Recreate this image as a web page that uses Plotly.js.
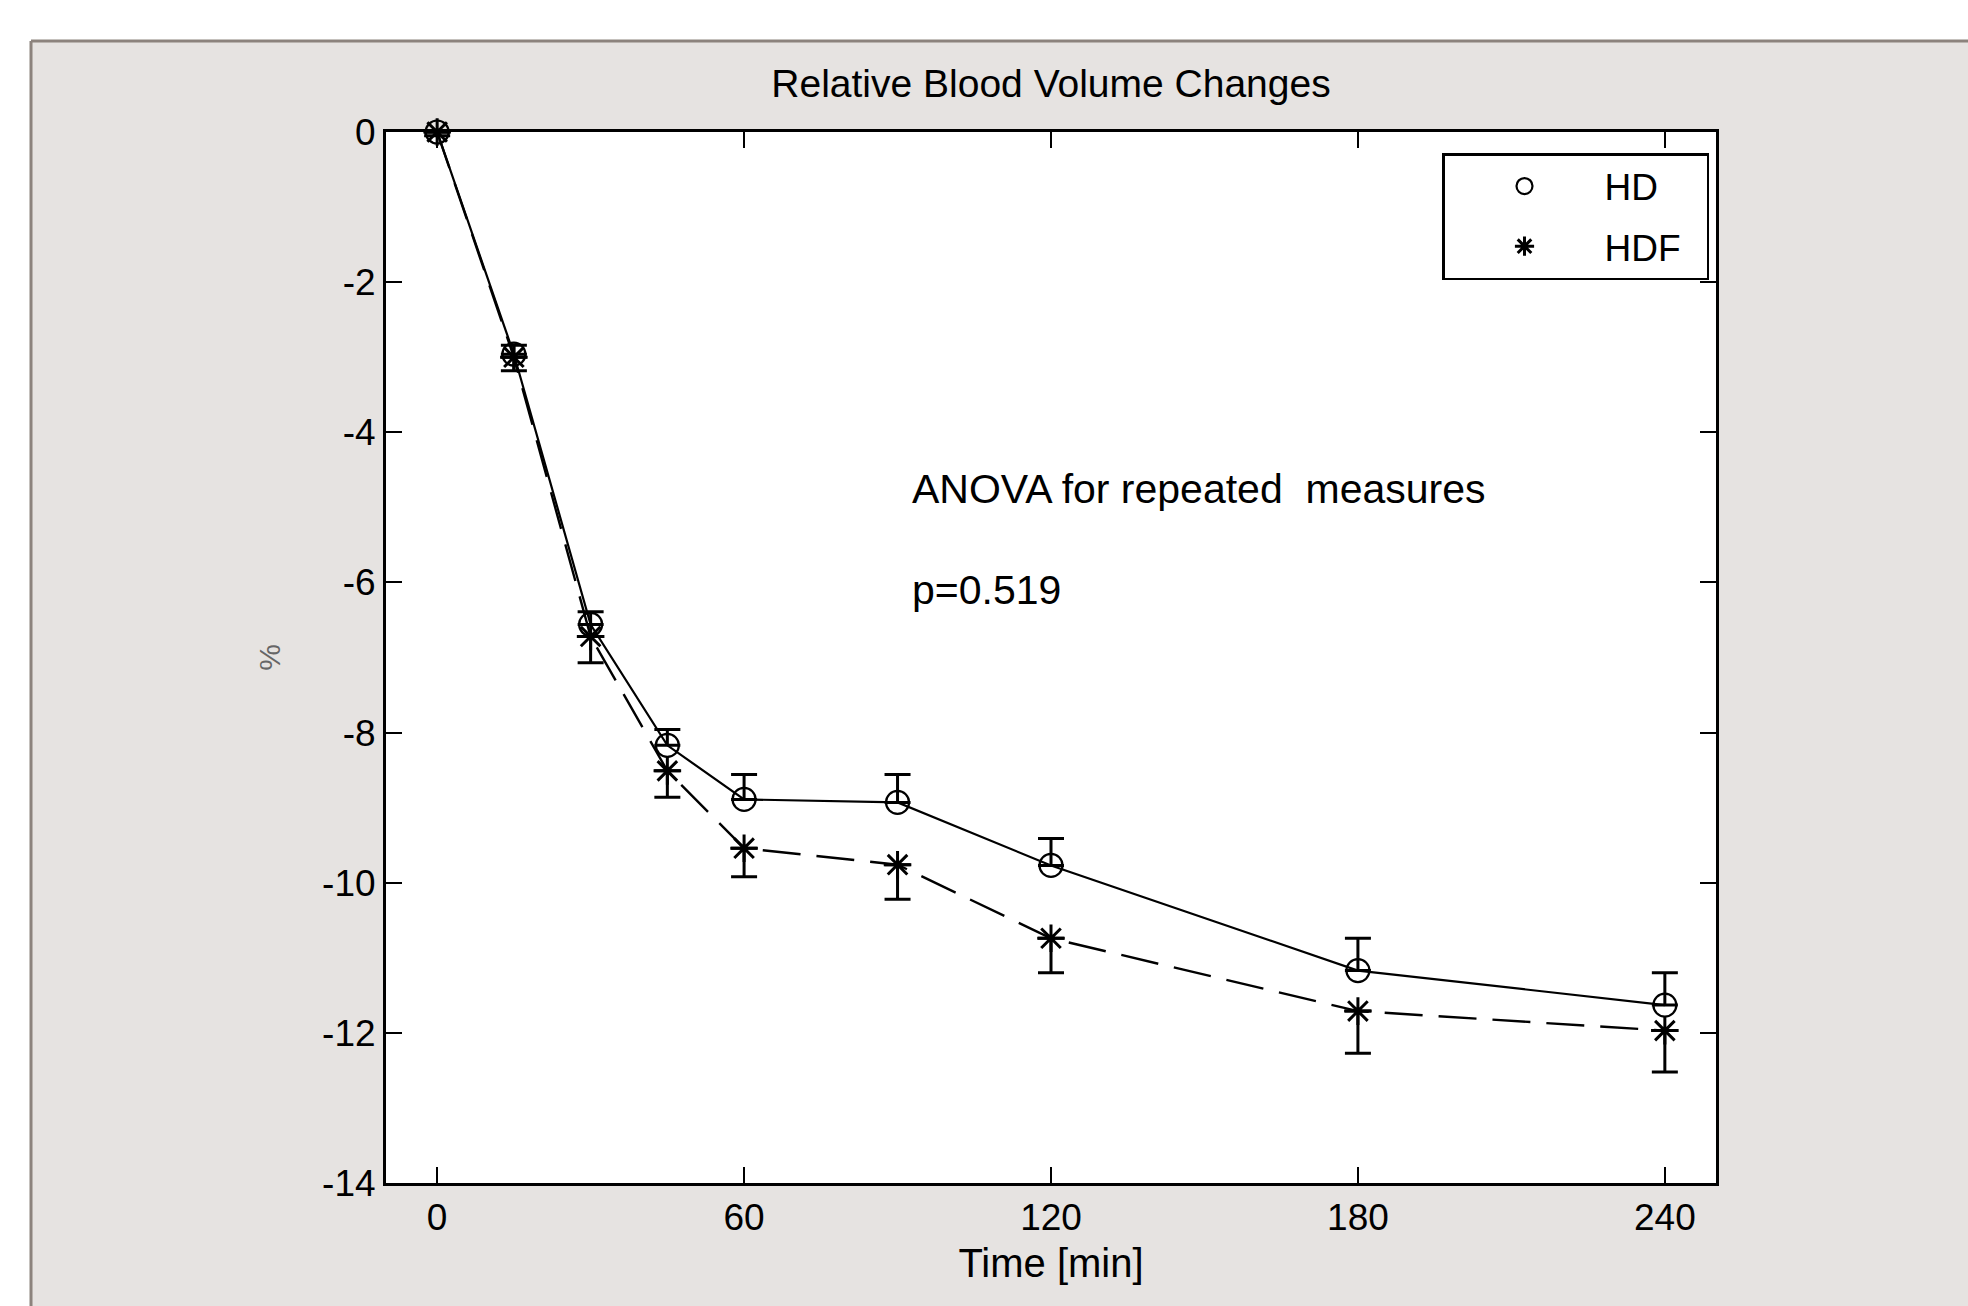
<!DOCTYPE html>
<html>
<head>
<meta charset="utf-8">
<script src="https://cdn.plot.ly/plotly-3.0.1.min.js"></script>
<style>
  html, body { margin: 0; padding: 0; background: #ffffff; }
  #chart { width: 1968px; height: 1306px; }
</style>
</head>
<body>
<div id="chart"></div>
<script>
// ---- data ----
const timeMin = [0, 15, 30, 45, 60, 90, 120, 180, 240];
const hdValues = [0, -2.96, -6.56, -8.17, -8.89, -8.93, -9.77, -11.17, -11.63];
const hdErrorUp = [0.05, 0.12, 0.17, 0.21, 0.33, 0.37, 0.36, 0.43, 0.43];
const hdfValues = [0, -3.0, -6.72, -8.51, -9.54, -9.76, -10.74, -11.71, -11.97];
const hdfErrorDown = [0.05, 0.18, 0.35, 0.35, 0.38, 0.46, 0.46, 0.56, 0.55];
const seriesNames = ["HD", "HDF"];
const xTickVals = [0, 60, 120, 180, 240];
const xTickText = ["0", "60", "120", "180", "240"];
const yTickVals = [0, -2, -4, -6, -8, -10, -12, -14];
const yTickText = ["0", "-2", "-4", "-6", "-8", "-10", "-12", "-14"];

const FONT = "Liberation Sans, Arial, Helvetica, sans-serif";
const NBSP = "\u00a0";

const traces = [
  {
    x: timeMin, y: hdValues, mode: "lines", showlegend: false, hoverinfo: "skip",
    line: { color: "#000000", width: 2.2 }
  },
  {
    x: timeMin, y: hdfValues, mode: "lines", showlegend: false, hoverinfo: "skip",
    line: { color: "#000000", width: 2.4, dash: "38px,16px" }
  },
  {
    x: timeMin, y: hdValues, mode: "markers", name: seriesNames[0] + NBSP + NBSP, legendgroup: "g1", cliponaxis: false,
    marker: { symbol: "circle-open", size: 23, color: "#000000", line: { width: 2.2, color: "#000000" } },
    error_y: { type: "data", symmetric: false, array: hdErrorUp, arrayminus: timeMin.map(() => 0),
               color: "#000000", thickness: 3, width: 13 }
  },
  {
    x: timeMin, y: hdfValues, mode: "markers", name: seriesNames[1] + NBSP + NBSP, legendgroup: "g2", cliponaxis: false,
    marker: { symbol: "asterisk-open", size: 23, color: "#000000", line: { width: 3, color: "#000000" } },
    error_y: { type: "data", symmetric: false, array: timeMin.map(() => 0), arrayminus: hdfErrorDown,
               color: "#000000", thickness: 3, width: 13 }
  }
];

// panel frame geometry (paper coordinates, plot area spans 386..1716 x 132..1183 px)
const pxX = px => (px - 386) / 1330;
const pxY = py => (1183 - py) / 1051;
const frameLeft = pxX(31);
const frameTop = pxY(41);

const layout = {
  width: 1968, height: 1306,
  margin: { l: 386, r: 252, t: 132, b: 123, pad: 0 },
  paper_bgcolor: "#e6e3e1",
  plot_bgcolor: "#ffffff",
  font: { family: FONT, color: "#000000", size: 38 },
  title: {
    text: "Relative Blood Volume Changes",
    font: { family: FONT, size: 39, color: "#000000" },
    x: 0.5, xref: "paper", xanchor: "center",
    y: 1 - 83 / 1306, yref: "container", yanchor: "middle"
  },
  xaxis: {
    range: [-10, 250], tickmode: "array", tickvals: xTickVals, ticktext: xTickText,
    ticks: "inside", ticklen: 16, tickwidth: 2, tickcolor: "#000000",
    showline: true, linewidth: 3, linecolor: "#000000", mirror: "ticks",
    showgrid: false, zeroline: false,
    tickfont: { family: FONT, size: 37, color: "#000000" },
    title: { text: "Time [min]", font: { family: FONT, size: 40, color: "#000000" }, standoff: 12 }
  },
  yaxis: {
    range: [-14, 0], tickmode: "array", tickvals: yTickVals, ticktext: yTickText,
    ticks: "inside", ticklen: 16, tickwidth: 2, tickcolor: "#000000",
    showline: true, linewidth: 3, linecolor: "#000000", mirror: "ticks",
    showgrid: false, zeroline: false,
    tickfont: { family: FONT, size: 37, color: "#000000" },
    title: { text: "%", font: { family: FONT, size: 30, color: "#666666" }, standoff: 33 }
  },
  legend: {
    x: pxX(1442), y: pxY(153), xanchor: "left", yanchor: "top",
    bgcolor: "#ffffff", bordercolor: "#000000", borderwidth: 2.5,
    font: { family: FONT, size: 37, color: "#000000" },
    itemwidth: 150, traceorder: "grouped", tracegroupgap: 9
  },
  annotations: [
    { text: "ANOVA for repeated  measures", x: 92.4, y: -4.76, xref: "x", yref: "y",
      xanchor: "left", yanchor: "middle", showarrow: false,
      font: { family: FONT, size: 41, color: "#000000" } },
    { text: "p=0.519", x: 92.4, y: -6.1, xref: "x", yref: "y",
      xanchor: "left", yanchor: "middle", showarrow: false,
      font: { family: FONT, size: 41, color: "#000000" } }
  ],
  shapes: [
    { type: "rect", xref: "paper", yref: "paper", x0: -1, x1: 2, y0: frameTop, y1: 2,
      fillcolor: "#ffffff", line: { width: 0 }, layer: "above" },
    { type: "rect", xref: "paper", yref: "paper", x0: -1, x1: frameLeft, y0: -1, y1: 2,
      fillcolor: "#ffffff", line: { width: 0 }, layer: "above" },
    { type: "line", xref: "paper", yref: "paper", x0: frameLeft, x1: 2, y0: frameTop, y1: frameTop,
      line: { color: "#8c837d", width: 3 }, layer: "above" },
    { type: "line", xref: "paper", yref: "paper", x0: frameLeft, x1: frameLeft, y0: frameTop, y1: -1,
      line: { color: "#8c837d", width: 3 }, layer: "above" }
  ]
};

Plotly.newPlot("chart", traces, layout, { displayModeBar: false, staticPlot: true });
</script>
</body>
</html>
